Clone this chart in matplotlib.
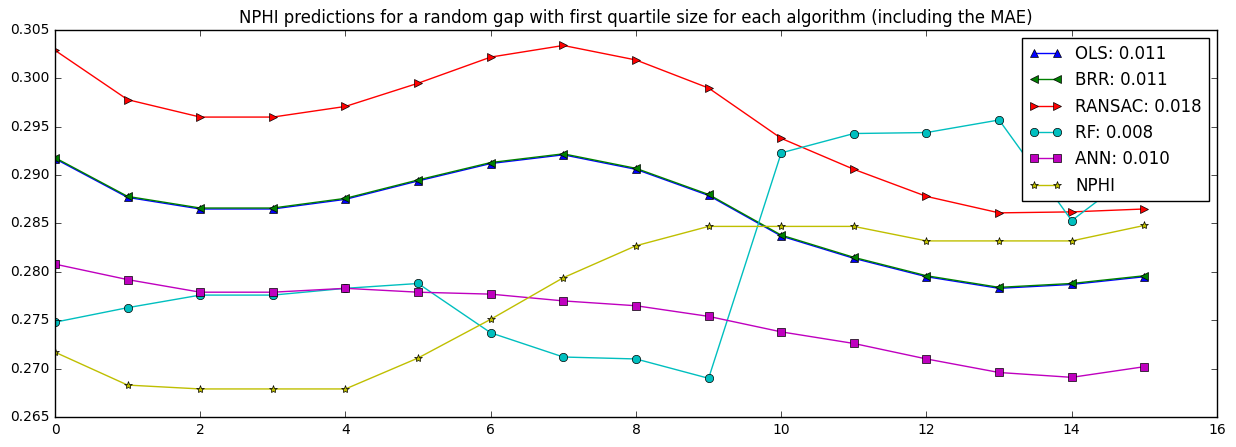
import numpy as np
import matplotlib
matplotlib.use('Agg')
import matplotlib.pyplot as plt

plt.style.use('classic')

steps = list(range(16))

ols = [0.2917, 0.2877, 0.2865, 0.2865, 0.2875, 0.2894, 0.2912, 0.2921,
       0.2906, 0.2879, 0.2837, 0.2814, 0.2795, 0.2783, 0.2787, 0.2795]
brr = [0.2918, 0.2878, 0.2866, 0.2866, 0.2876, 0.2895, 0.2913, 0.2922,
       0.2907, 0.2880, 0.2838, 0.2815, 0.2796, 0.2784, 0.2788, 0.2796]
ransac = [0.3029, 0.2978, 0.2960, 0.2960, 0.2971, 0.2995, 0.3022, 0.3034,
          0.3019, 0.2990, 0.2938, 0.2906, 0.2878, 0.2861, 0.2862, 0.2865]
rf = [0.2748, 0.2763, 0.2776, 0.2776, 0.2783, 0.2788, 0.2737, 0.2712,
      0.2710, 0.2690, 0.2923, 0.2943, 0.2944, 0.2957, 0.2853, 0.2910]
ann = [0.2808, 0.2792, 0.2779, 0.2779, 0.2783, 0.2779, 0.2777, 0.2770,
       0.2765, 0.2754, 0.2738, 0.2726, 0.2710, 0.2696, 0.2691, 0.2702]
nphi = [0.2717, 0.2683, 0.2679, 0.2679, 0.2679, 0.2711, 0.2751, 0.2794,
        0.2827, 0.2847, 0.2847, 0.2847, 0.2832, 0.2832, 0.2832, 0.2848]

mae = {'OLS': 0.011, 'BRR': 0.011, 'RANSAC': 0.018, 'RF': 0.008, 'ANN': 0.010}


def main():
    fig = plt.figure(figsize=(12.36, 4.47), dpi=100, facecolor='white')
    ax = fig.add_axes([0.0445, 0.0671, 0.9401, 0.8658])

    ax.plot(steps, ols, 'b^-', label='OLS: %.3f' % mae['OLS'])
    ax.plot(steps, brr, 'g<-', label='BRR: %.3f' % mae['BRR'])
    ax.plot(steps, ransac, 'r>-', label='RANSAC: %.3f' % mae['RANSAC'])
    ax.plot(steps, rf, 'co-', label='RF: %.3f' % mae['RF'])
    ax.plot(steps, ann, 'ms-', label='ANN: %.3f' % mae['ANN'])
    ax.plot(steps, nphi, 'y*-', label='NPHI')

    ax.set_xlim(0, 16)
    ax.set_ylim(0.265, 0.305)
    ax.tick_params(labelsize=10)
    ax.set_title('NPHI predictions for a random gap with first quartile size for each algorithm (including the MAE)',
                 fontsize=11.9)
    ax.legend(loc='upper right', fontsize=12)

    fig.savefig('out.png', dpi=100, facecolor='white')


if __name__ == '__main__':
    main()
